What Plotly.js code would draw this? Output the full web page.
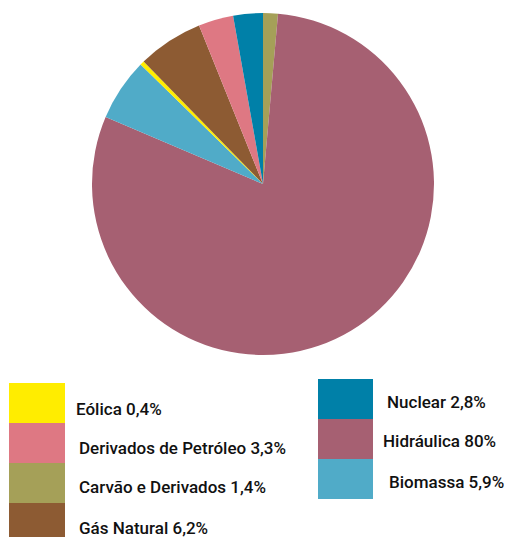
<!DOCTYPE html>
<html>
<head>
<meta charset="utf-8">
<script src="https://cdn.plot.ly/plotly-3.0.1.min.js"></script>
<style>
  html, body { margin: 0; padding: 0; background: #fff; }
  #chart { width: 507px; height: 537px; }
</style>
</head>
<body>
<div id="chart"></div>
<script>
// Matriz elétrica: fontes e participação (%), na ordem horária a partir do topo
const fontes = ['Carvão e Derivados', 'Hidráulica', 'Biomassa', 'Eólica', 'Gás Natural', 'Derivados de Petróleo', 'Nuclear'];
const participacao = [1.4, 80, 5.9, 0.4, 6.2, 3.3, 2.8];
const cores = ['#A5A058', '#A66072', '#50ABC8', '#FFED00', '#8D5B33', '#DE7883', '#0080A8'];

// Ordem das caixas da legenda (duas colunas)
const legendaEsq = ['Eólica', 'Derivados de Petróleo', 'Carvão e Derivados', 'Gás Natural'];
const legendaDir = ['Nuclear', 'Hidráulica', 'Biomassa'];

const W = 507, H = 537;
const px = x => x / W;
const py = y => 1 - y / H;

function rotulo(nome) {
  const i = fontes.indexOf(nome);
  return nome + ' ' + String(participacao[i]).replace('.', ',') + '%';
}

const shapes = [];
const annotations = [];

function coluna(nomes, x0, x1, yTopo, altura, textoX, textoDy) {
  nomes.forEach((nome, k) => {
    const i = fontes.indexOf(nome);
    const y0 = yTopo + k * altura;
    shapes.push({
      type: 'rect', xref: 'paper', yref: 'paper',
      x0: px(x0), x1: px(x1), y0: py(y0 + altura), y1: py(y0),
      fillcolor: cores[i], line: { width: 0 }
    });
    annotations.push({
      xref: 'paper', yref: 'paper', xanchor: 'left', yanchor: 'middle',
      x: px(textoX[k]), y: py(y0 + altura / 2 + textoDy[k]),
      text: rotulo(nome), showarrow: false,
      font: { family: 'Roboto', size: 17, color: '#111', weight: 500 }
    });
  });
}

coluna(legendaEsq, 9, 65, 383, 40, [74, 77, 77, 77], [6, 5, 4, 5]);
coluna(legendaDir, 318, 373, 379, 40, [385, 381, 387], [3, 2, 3]);

const trace = {
  type: 'pie',
  labels: fontes,
  values: participacao,
  marker: { colors: cores, line: { width: 0 } },
  sort: false,
  direction: 'clockwise',
  rotation: 0,
  textinfo: 'none',
  hoverinfo: 'label+percent',
  showlegend: false,
  domain: { x: [px(92), px(434)], y: [py(355), py(13)] }
};

const layout = {
  width: W, height: H,
  margin: { l: 0, r: 0, t: 0, b: 0 },
  paper_bgcolor: '#fff',
  showlegend: false,
  shapes: shapes,
  annotations: annotations
};

Plotly.newPlot('chart', [trace], layout, { displayModeBar: false, staticPlot: true });
</script>
</body>
</html>
